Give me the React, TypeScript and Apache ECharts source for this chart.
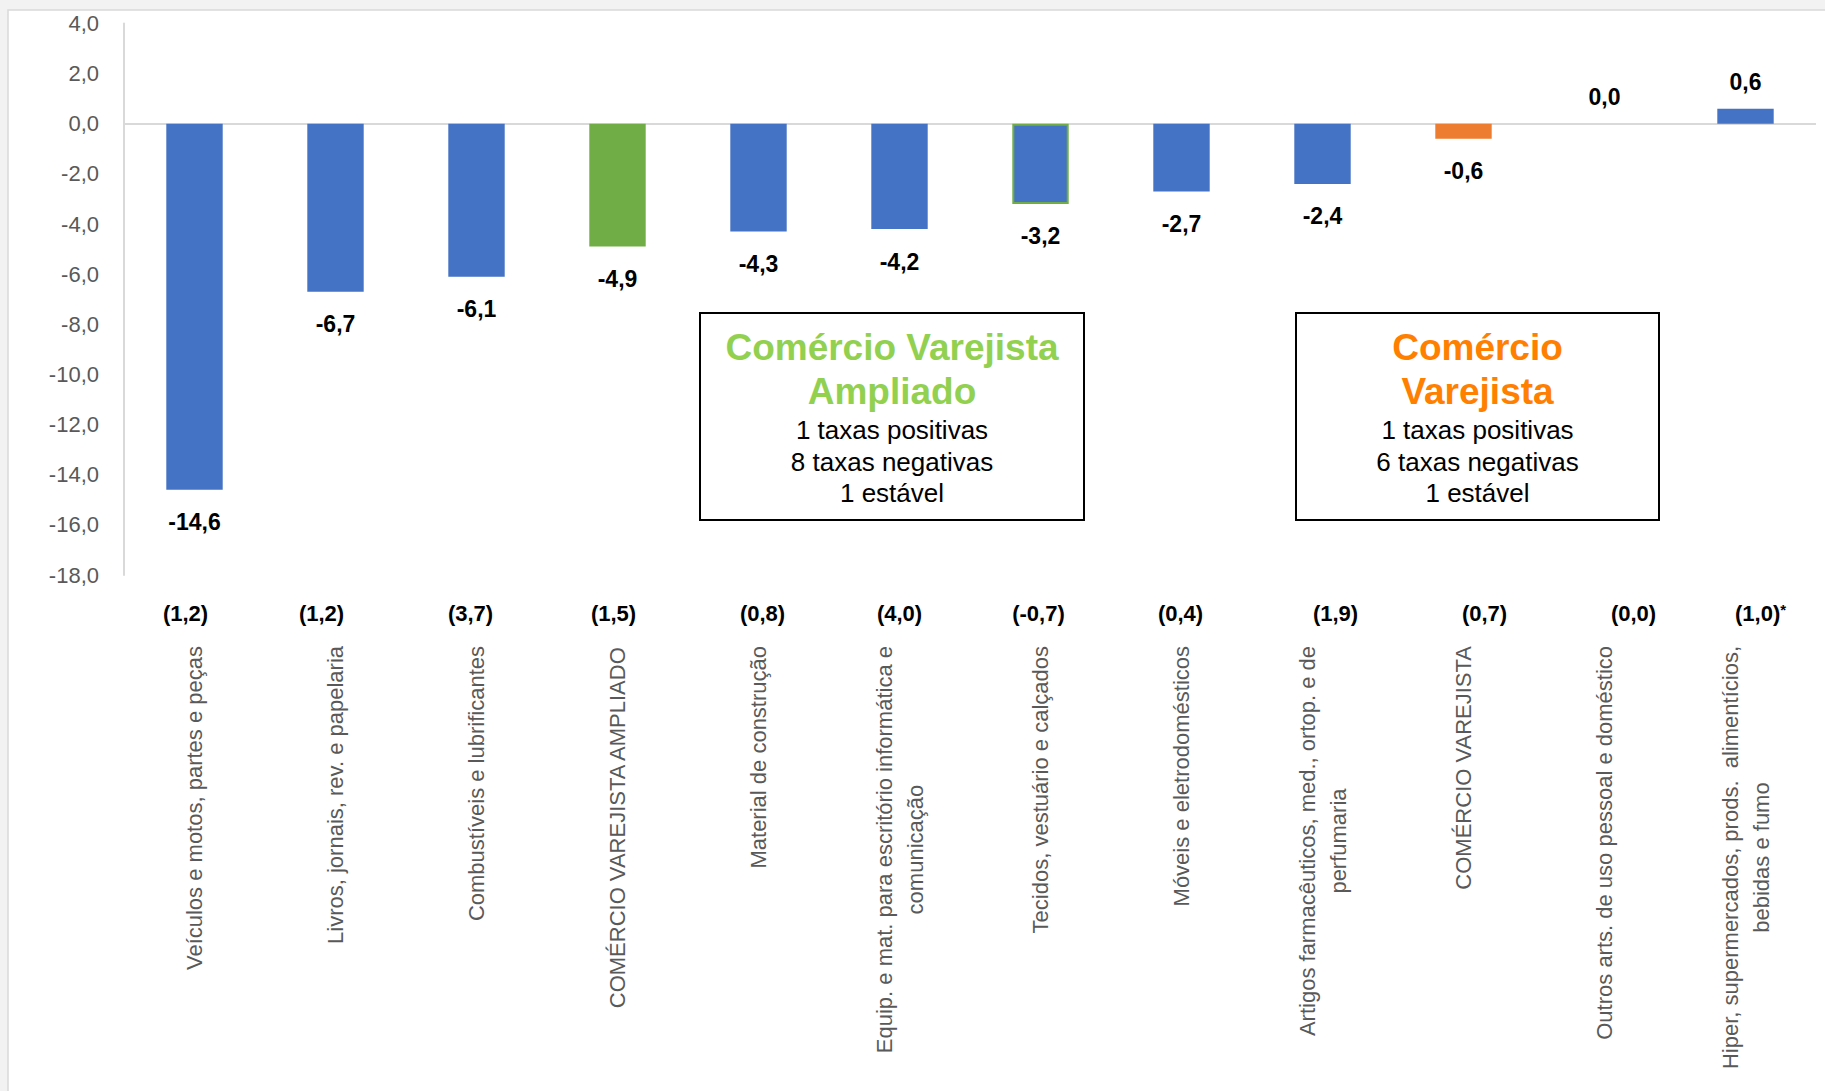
import React, { useEffect, useRef } from 'react';
import * as echarts from 'echarts';

// ---------- data ----------
const categories = [
  'Veículos e motos, partes e peças',
  'Livros, jornais, rev. e papelaria',
  'Combustíveis e lubrificantes',
  'COMÉRCIO VAREJISTA AMPLIADO',
  'Material de construção',
  'Equip. e mat. para escritório informática e\ncomunicação',
  'Tecidos, vestuário e calçados',
  'Móveis e eletrodomésticos',
  'Artigos farmacêuticos, med., ortop. e de\nperfumaria',
  'COMÉRCIO VAREJISTA',
  'Outros arts. de uso pessoal e doméstico',
  'Hiper, supermercados, prods.  alimentícios,\nbebidas e fumo',
];
const values = [-14.6, -6.7, -6.1, -4.9, -4.3, -4.2, -3.2, -2.7, -2.4, -0.6, 0.0, 0.6];
const previousRates = ['(1,2)', '(1,2)', '(3,7)', '(1,5)', '(0,8)', '(4,0)', '(-0,7)', '(0,4)', '(1,9)', '(0,7)', '(0,0)', '(1,0)*'];
const barKind = ['item', 'item', 'item', 'ampliado', 'item', 'item', 'outlined', 'item', 'item', 'varejista', 'item', 'item'];
const yMin = -18;
const yMax = 4;
const yInterval = 2;

const boxAmpliadoTitle = ['Comércio Varejista', 'Ampliado'];
const boxAmpliadoLines = ['1 taxas positivas', '8 taxas negativas', '1 estável'];
const boxVarejistaTitle = ['Comércio', 'Varejista'];
const boxVarejistaLines = ['1 taxas positivas', '6 taxas negativas', '1 estável'];

// ---------- styling ----------
const FONT = '"Liberation Sans", Arial, sans-serif';
const BLUE = '#4472C4';
const GREEN = '#70AD47';
const ORANGE = '#ED7D31';
const parenLabelShift = [-9, -14, -6, -4, 4, 0, -2, -1, 13, 21, 29, 15];

const fmt = (v: number) => v.toFixed(1).replace('.', ',');

function kindStyle(kind: string) {
  if (kind === 'ampliado') return { color: GREEN };
  if (kind === 'varejista') return { color: ORANGE };
  if (kind === 'outlined') return { color: BLUE, borderColor: GREEN, borderWidth: 2 };
  return { color: BLUE };
}

function box(cx: number, x: number, y: number, w: number, h: number, title: string[], lines: string[], titleColor: string) {
  const titleY = [347, 391];
  const lineY = [430, 462, 493];
  const children: any[] = [
    { type: 'rect', shape: { x, y, width: w, height: h }, style: { fill: '#ffffff', stroke: '#000000', lineWidth: 2 } },
  ];
  title.forEach((t, i) => {
    children.push({
      type: 'text',
      x: cx,
      y: titleY[i],
      style: { text: t, fill: titleColor, font: `bold 37px ${FONT}`, textAlign: 'center', textVerticalAlign: 'middle' },
    });
  });
  lines.forEach((t, i) => {
    children.push({
      type: 'text',
      x: cx,
      y: lineY[i],
      style: { text: t, fill: '#000000', font: `26px ${FONT}`, textAlign: 'center', textVerticalAlign: 'middle' },
    });
  });
  return { type: 'group', z: 50, children };
}

export default function App() {
  const ref = useRef<HTMLDivElement>(null);

  useEffect(() => {
    document.body.style.margin = '0';
    if (!ref.current) return;
    const chart = echarts.init(ref.current, undefined, { renderer: 'svg' });

    const seriesData = values.map((v, i) => ({
      value: v,
      itemStyle: kindStyle(barKind[i]),
      label: v < 0 ? { position: 'bottom', distance: 21 } : { position: 'top', distance: 15 },
    }));

    const parenData = previousRates.map((p, i) => {
      const s = parenLabelShift[i];
      return {
        value: p,
        textStyle: { padding: s >= 0 ? [0, 0, 0, 2 * s] : [0, -2 * s, 0, 0] },
      };
    });

    const option: any = {
      animation: false,
      backgroundColor: '#f2f2f2',
      grid: { left: 124, right: 9, top: 23.5, bottom: 516, containLabel: false, outerBoundsMode: 'none' },
      xAxis: [
        {
          type: 'category',
          data: categories,
          position: 'bottom',
          axisLine: { show: false, onZero: false },
          axisTick: { show: false },
          splitLine: { show: false },
          axisLabel: {
            interval: 0,
            rotate: 90,
            margin: 71,
            formatter: (v: string) => v.split('\n').map((l) => `{c|${l}}`).join('\n'),
            rich: {
              c: { fontFamily: FONT, fontSize: 22, color: '#595959', align: 'center', lineHeight: 31 },
            },
          },
        },
        {
          type: 'category',
          data: parenData,
          position: 'bottom',
          axisLine: { show: false, onZero: false },
          axisTick: { show: false },
          splitLine: { show: false },
          axisLabel: {
            interval: 0,
            margin: 27,
            formatter: (v: string) => (v.endsWith('*') ? `{p|${v.slice(0, -1)}}{s|*}` : `{p|${v}}`),
            rich: {
              p: { fontFamily: FONT, fontSize: 22, fontWeight: 'bold', color: '#000000' },
              s: { fontFamily: FONT, fontSize: 15, fontWeight: 'bold', color: '#000000', verticalAlign: 'top' },
            },
          },
        },
      ],
      yAxis: {
        type: 'value',
        min: yMin,
        max: yMax,
        interval: yInterval,
        axisLine: { show: true, lineStyle: { color: '#d9d9d9', width: 2 } },
        axisTick: { show: false },
        splitLine: { show: false },
        axisLabel: {
          margin: 25,
          color: '#595959',
          fontFamily: FONT,
          fontSize: 22,
          formatter: (v: number) => fmt(v),
        },
      },
      series: [
        {
          type: 'bar',
          xAxisIndex: 0,
          data: seriesData,
          barWidth: '40%',
          label: {
            show: true,
            fontFamily: FONT,
            fontSize: 23,
            fontWeight: 'bold',
            color: '#000000',
            formatter: (p: any) => fmt(p.value),
          },
          markLine: {
            silent: true,
            symbol: 'none',
            label: { show: false },
            lineStyle: { color: '#d9d9d9', width: 2, type: 'solid' },
            data: [{ yAxis: 0 }],
            z: 1,
          },
        },
      ],
      graphic: [
        {
          type: 'rect',
          z: -100,
          silent: true,
          shape: { x: 8, y: 10, width: 1900, height: 1200 },
          style: { fill: '#ffffff', stroke: '#d9d9d9', lineWidth: 1.5 },
        },
        box(892, 700, 313, 384, 207, boxAmpliadoTitle, boxAmpliadoLines, '#92D050'),
        box(1477.5, 1296, 313, 363, 207, boxVarejistaTitle, boxVarejistaLines, '#FF8000'),
      ],
    };

    chart.setOption(option);
    return () => chart.dispose();
  }, []);

  return <div ref={ref} style={{ width: 1825, height: 1091, overflow: 'hidden' }} />;
}
